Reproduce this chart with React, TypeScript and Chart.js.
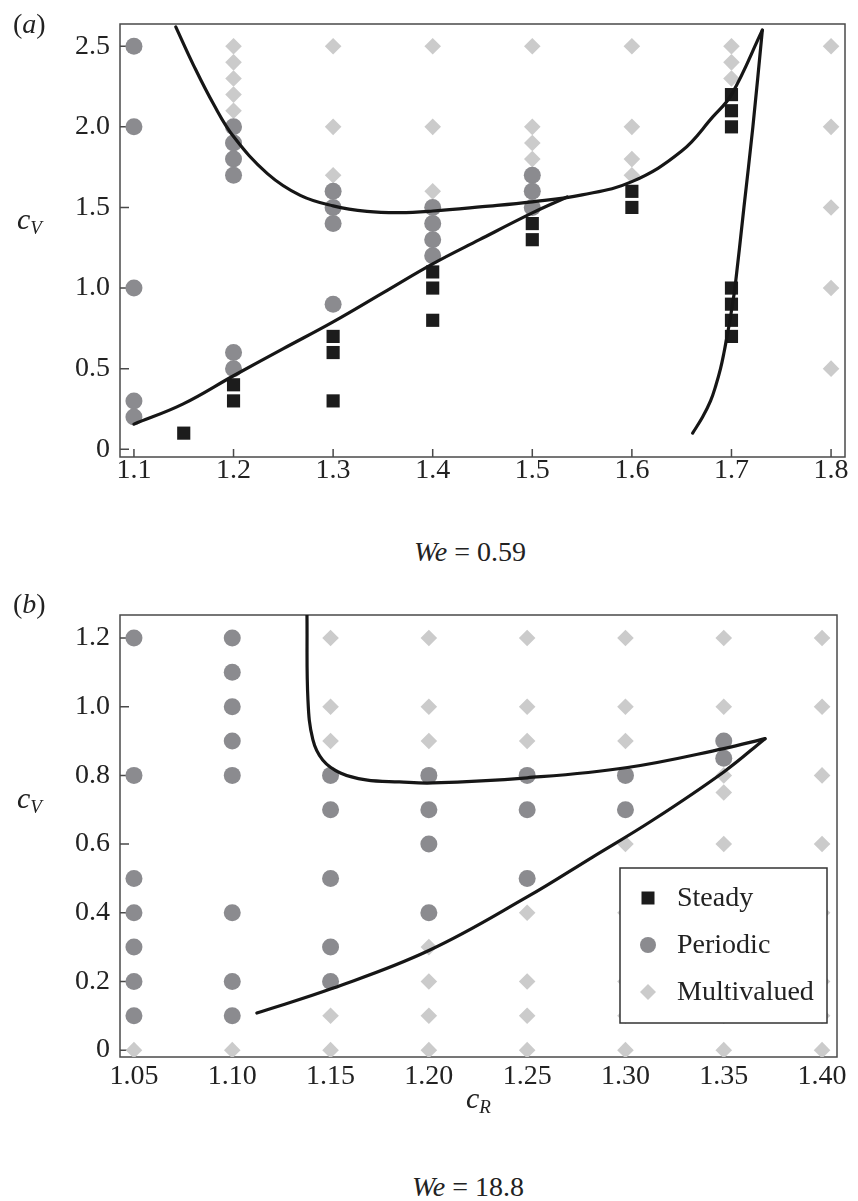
import React, { useEffect, useRef } from "react";
import { Chart, registerables } from "chart.js";

Chart.register(...registerables);

type Pt = [number, number];

// ---------------- Panel (a): We = 0.59 ----------------
const xTicksA = [1.1, 1.2, 1.3, 1.4, 1.5, 1.6, 1.7, 1.8];
const xTickLabelsA = ["1.1", "1.2", "1.3", "1.4", "1.5", "1.6", "1.7", "1.8"];
const yTicksA = [0, 0.5, 1.0, 1.5, 2.0, 2.5];
const yTickLabelsA = ["0", "0.5", "1.0", "1.5", "2.0", "2.5"];

const steadyA: Pt[] = [
  [1.15, 0.1],
  [1.2, 0.4], [1.2, 0.3],
  [1.3, 0.7], [1.3, 0.6], [1.3, 0.3],
  [1.4, 1.1], [1.4, 1.0], [1.4, 0.8],
  [1.5, 1.4], [1.5, 1.3],
  [1.6, 1.6], [1.6, 1.5],
  [1.7, 2.2], [1.7, 2.1], [1.7, 2.0],
  [1.7, 1.0], [1.7, 0.9], [1.7, 0.8], [1.7, 0.7],
];
const periodicA: Pt[] = [
  [1.1, 2.5], [1.1, 2.0], [1.1, 1.0], [1.1, 0.3], [1.1, 0.2],
  [1.2, 2.0], [1.2, 1.9], [1.2, 1.8], [1.2, 1.7], [1.2, 0.6], [1.2, 0.5],
  [1.3, 1.6], [1.3, 1.5], [1.3, 1.4], [1.3, 0.9],
  [1.4, 1.5], [1.4, 1.4], [1.4, 1.3], [1.4, 1.2],
  [1.5, 1.7], [1.5, 1.6], [1.5, 1.5],
];
const multiA: Pt[] = [
  [1.2, 2.5], [1.2, 2.4], [1.2, 2.3], [1.2, 2.2], [1.2, 2.1],
  [1.3, 2.5], [1.3, 2.0], [1.3, 1.7],
  [1.4, 2.5], [1.4, 2.0], [1.4, 1.6],
  [1.5, 2.5], [1.5, 2.0], [1.5, 1.9], [1.5, 1.8],
  [1.6, 2.5], [1.6, 2.0], [1.6, 1.8], [1.6, 1.7],
  [1.7, 2.5], [1.7, 2.4], [1.7, 2.3],
  [1.8, 2.5], [1.8, 2.0], [1.8, 1.5], [1.8, 1.0], [1.8, 0.5],
];
const curveUpperA: Pt[] = [
  [1.142, 2.62], [1.16, 2.38], [1.18, 2.14], [1.2, 1.94], [1.234, 1.71],
  [1.267, 1.575], [1.3, 1.51], [1.334, 1.476], [1.367, 1.468], [1.4, 1.478],
  [1.45, 1.505], [1.5, 1.535], [1.55, 1.578], [1.6, 1.66], [1.65, 1.85],
  [1.681, 2.06], [1.7, 2.2], [1.731, 2.6],
];
const curveLowerA: Pt[] = [
  [1.1, 0.156], [1.149, 0.28], [1.2, 0.456], [1.25, 0.624], [1.3, 0.79],
  [1.35, 0.97], [1.4, 1.15], [1.447, 1.3], [1.5, 1.466], [1.535, 1.565],
];
const curveRightA: Pt[] = [
  [1.661, 0.1], [1.671, 0.2], [1.679, 0.3], [1.6845, 0.4], [1.689, 0.5],
  [1.6925, 0.6], [1.6955, 0.7], [1.6985, 0.8], [1.701, 0.9], [1.7035, 1.0],
  [1.7125, 1.5], [1.7215, 2.0], [1.731, 2.6],
];

// ---------------- Panel (b): We = 18.8 ----------------
const xTicksB = [1.05, 1.1, 1.15, 1.2, 1.25, 1.3, 1.35, 1.4];
const xTickLabelsB = ["1.05", "1.10", "1.15", "1.20", "1.25", "1.30", "1.35", "1.40"];
const yTicksB = [0, 0.2, 0.4, 0.6, 0.8, 1.0, 1.2];
const yTickLabelsB = ["0", "0.2", "0.4", "0.6", "0.8", "1.0", "1.2"];

const steadyB: Pt[] = [];
const periodicB: Pt[] = [
  [1.05, 1.2], [1.05, 0.8], [1.05, 0.5], [1.05, 0.4], [1.05, 0.3], [1.05, 0.2], [1.05, 0.1],
  [1.1, 1.2], [1.1, 1.1], [1.1, 1.0], [1.1, 0.9], [1.1, 0.8], [1.1, 0.4], [1.1, 0.2], [1.1, 0.1],
  [1.15, 0.8], [1.15, 0.7], [1.15, 0.5], [1.15, 0.3], [1.15, 0.2],
  [1.2, 0.8], [1.2, 0.7], [1.2, 0.6], [1.2, 0.4],
  [1.25, 0.8], [1.25, 0.7], [1.25, 0.5],
  [1.3, 0.8], [1.3, 0.7],
  [1.35, 0.9], [1.35, 0.85],
];
const multiB: Pt[] = [
  [1.05, 0],
  [1.1, 0],
  [1.15, 1.2], [1.15, 1.0], [1.15, 0.9], [1.15, 0.1], [1.15, 0],
  [1.2, 1.2], [1.2, 1.0], [1.2, 0.9], [1.2, 0.3], [1.2, 0.2], [1.2, 0.1], [1.2, 0],
  [1.25, 1.2], [1.25, 1.0], [1.25, 0.9], [1.25, 0.4], [1.25, 0.2], [1.25, 0.1], [1.25, 0],
  [1.3, 1.2], [1.3, 1.0], [1.3, 0.9], [1.3, 0.6], [1.3, 0.4], [1.3, 0.2], [1.3, 0.1], [1.3, 0],
  [1.35, 1.2], [1.35, 1.0], [1.35, 0.8], [1.35, 0.75], [1.35, 0.6], [1.35, 0.4], [1.35, 0.2], [1.35, 0.1], [1.35, 0],
  [1.4, 1.2], [1.4, 1.0], [1.4, 0.8], [1.4, 0.6], [1.4, 0.4], [1.4, 0.2], [1.4, 0.1], [1.4, 0],
];
const curveUpperB: Pt[] = [
  [1.138, 1.267], [1.1385, 1.02], [1.141, 0.904], [1.146, 0.845], [1.155, 0.807],
  [1.168, 0.787], [1.185, 0.781], [1.202, 0.778], [1.25, 0.793], [1.301, 0.823],
  [1.35, 0.878], [1.371, 0.907],
];
const curveLowerB: Pt[] = [
  [1.1125, 0.108], [1.151, 0.18], [1.2, 0.29], [1.25, 0.446], [1.2835, 0.563],
  [1.314, 0.67], [1.35, 0.81], [1.371, 0.907],
];

const legendLabels = ["Steady", "Periodic", "Multivalued"];

// ---------------- styling ----------------
const STEADY = "#1c1c1c";
const PERIODIC = "#8b8b8f";
const MULTI = "#cbcbcb";
const LINE = "#161616";
const FRAME = "#4a4a4a";
const TEXT = "#222";
const SERIF = '"Liberation Serif", "Times New Roman", serif';

const toXY = (p: Pt[]) => p.map(([x, y]) => ({ x, y }));

function curve(p: Pt[]) {
  return {
    label: "curve",
    data: toXY(p),
    showLine: true,
    pointRadius: 0,
    borderColor: LINE,
    borderWidth: 3.2,
    tension: 0.4,
    borderCapStyle: "round",
    borderJoinStyle: "round",
    order: 0,
  };
}

function markers(p: Pt[], label: string, style: string, radius: number, color: string, order: number) {
  return {
    label,
    data: toXY(p),
    pointStyle: style,
    pointRadius: radius,
    pointBackgroundColor: color,
    pointBorderWidth: 0,
    backgroundColor: color,
    borderWidth: 0,
    showLine: false,
    order,
  };
}

const framePlugin = {
  id: "frame",
  beforeDatasetsDraw(chart: any) {
    const { ctx, chartArea: a, scales } = chart;
    ctx.save();
    ctx.strokeStyle = FRAME;
    ctx.lineWidth = 1.5;
    ctx.strokeRect(a.left, a.top, a.right - a.left, a.bottom - a.top);
    ctx.beginPath();
    for (const t of scales.x.ticks) {
      const px = scales.x.getPixelForValue(t.value);
      ctx.moveTo(px, a.bottom);
      ctx.lineTo(px, a.bottom - 8);
    }
    for (const t of scales.y.ticks) {
      const py = scales.y.getPixelForValue(t.value);
      ctx.moveTo(a.left, py);
      ctx.lineTo(a.left + 9, py);
    }
    ctx.stroke();
    ctx.restore();
  },
};

const legendPlugin = {
  id: "boxLegend",
  afterDatasetsDraw(chart: any) {
    const { ctx, chartArea: a } = chart;
    const w = 207;
    const h = 155;
    const left = a.right - 10 - w;
    const top = a.bottom - 34 - h;
    ctx.save();
    ctx.fillStyle = "#fff";
    ctx.fillRect(left, top, w, h);
    ctx.strokeStyle = "#333";
    ctx.lineWidth = 1.5;
    ctx.strokeRect(left, top, w, h);
    const colors = [STEADY, PERIODIC, MULTI];
    legendLabels.forEach((lab, i) => {
      const cy = top + 30 + i * 47;
      const cx = left + 28;
      ctx.fillStyle = colors[i];
      if (i === 0) {
        ctx.fillRect(cx - 6.5, cy - 6.5, 13, 13);
      } else if (i === 1) {
        ctx.beginPath();
        ctx.arc(cx, cy, 8, 0, Math.PI * 2);
        ctx.fill();
      } else {
        ctx.beginPath();
        ctx.moveTo(cx, cy - 8);
        ctx.lineTo(cx + 8, cy);
        ctx.lineTo(cx, cy + 8);
        ctx.lineTo(cx - 8, cy);
        ctx.closePath();
        ctx.fill();
      }
      ctx.fillStyle = TEXT;
      ctx.font = `28px ${SERIF}`;
      ctx.textBaseline = "middle";
      ctx.textAlign = "left";
      ctx.fillText(lab, left + 57, cy + 1);
    });
    ctx.restore();
  },
};

function axis(
  min: number,
  max: number,
  ticks: number[],
  labels: string[],
  isX: boolean,
  size: number,
  padding: number
) {
  return {
    type: "linear",
    min,
    max,
    grid: { display: false, drawTicks: false },
    border: { display: false },
    afterBuildTicks: (s: any) => {
      s.ticks = ticks.map((v) => ({ value: v }));
    },
    afterFit: (s: any) => {
      if (isX) s.height = size;
      else s.width = size;
    },
    ticks: {
      autoSkip: false,
      maxRotation: 0,
      minRotation: 0,
      padding,
      color: TEXT,
      font: { family: SERIF, size: 28, lineHeight: 1 },
      callback: (v: number) => {
        const i = ticks.findIndex((t) => Math.abs(t - v) < 1e-9);
        return i >= 0 ? labels[i] : "";
      },
    },
  };
}

function PanelChart(props: { cfg: any; width: number; height: number; top: number }) {
  const ref = useRef<HTMLCanvasElement | null>(null);
  useEffect(() => {
    if (!ref.current) return;
    const chart = new Chart(ref.current, props.cfg);
    return () => chart.destroy();
  }, []);
  return (
    <canvas
      ref={ref}
      width={props.width}
      height={props.height}
      style={{ position: "absolute", left: 0, top: props.top, width: props.width, height: props.height }}
    />
  );
}

const cfgA = {
  type: "scatter",
  data: {
    datasets: [
      curve(curveUpperA),
      curve(curveLowerA),
      curve(curveRightA),
      markers(steadyA, legendLabels[0], "rect", 9.3, STEADY, 1),
      markers(periodicA, legendLabels[1], "circle", 8.5, PERIODIC, 2),
      markers(multiA, legendLabels[2], "rectRot", 8.3, MULTI, 3),
    ],
  },
  options: {
    animation: false,
    responsive: false,
    layout: { padding: { top: 9, right: 13, left: 0, bottom: 0 } },
    plugins: { legend: { display: false }, tooltip: { enabled: false } },
    scales: {
      x: axis(1.086, 1.814, xTicksA, xTickLabelsA, true, 43, 0),
      y: axis(-0.048, 2.638, yTicksA, yTickLabelsA, false, 120, 10),
    },
  },
  plugins: [framePlugin],
};

const cfgB = {
  type: "scatter",
  data: {
    datasets: [
      curve(curveUpperB),
      curve(curveLowerB),
      markers(steadyB, legendLabels[0], "rect", 9.3, STEADY, 1),
      markers(periodicB, legendLabels[1], "circle", 8.5, PERIODIC, 2),
      markers(multiB, legendLabels[2], "rectRot", 8.3, MULTI, 3),
    ],
  },
  options: {
    animation: false,
    responsive: false,
    layout: { padding: { top: 25, right: 21, left: 0, bottom: 0 } },
    plugins: { legend: { display: false }, tooltip: { enabled: false } },
    scales: {
      x: axis(1.0429, 1.4076, xTicksB, xTickLabelsB, true, 53, 6),
      y: axis(-0.02, 1.267, yTicksB, yTickLabelsB, false, 120, 10),
    },
  },
  plugins: [framePlugin, legendPlugin],
};

const textBase: React.CSSProperties = {
  position: "absolute",
  fontFamily: SERIF,
  color: TEXT,
  fontSize: 28,
  lineHeight: "28px",
  whiteSpace: "nowrap",
};

function CV(props: { left: number; top: number; sub: string }) {
  return (
    <div style={{ ...textBase, left: props.left, top: props.top, fontSize: 30, lineHeight: "30px" }}>
      <span style={{ fontStyle: "italic" }}>c</span>
      <span style={{ fontStyle: "italic", fontSize: 19, position: "relative", top: 5 }}>{props.sub}</span>
    </div>
  );
}

export default function App() {
  return (
    <div style={{ position: "absolute", left: 0, top: 0, width: 858, height: 1201, background: "#fff" }}>
      <PanelChart cfg={cfgA} width={858} height={500} top={0} />
      <PanelChart cfg={cfgB} width={858} height={520} top={590} />
      <div style={{ ...textBase, left: 13, top: 10 }}>
        (<i>a</i>)
      </div>
      <CV left={17} top={204} sub="V" />
      <div style={{ ...textBase, left: 270, width: 400, textAlign: "center", top: 538 }}>
        <i>We</i> = 0.59
      </div>
      <div style={{ ...textBase, left: 13, top: 590 }}>
        (<i>b</i>)
      </div>
      <CV left={17} top={783} sub="V" />
      <CV left={466} top={1083} sub="R" />
      <div style={{ ...textBase, left: 268, width: 400, textAlign: "center", top: 1173 }}>
        <i>We</i> = 18.8
      </div>
    </div>
  );
}
